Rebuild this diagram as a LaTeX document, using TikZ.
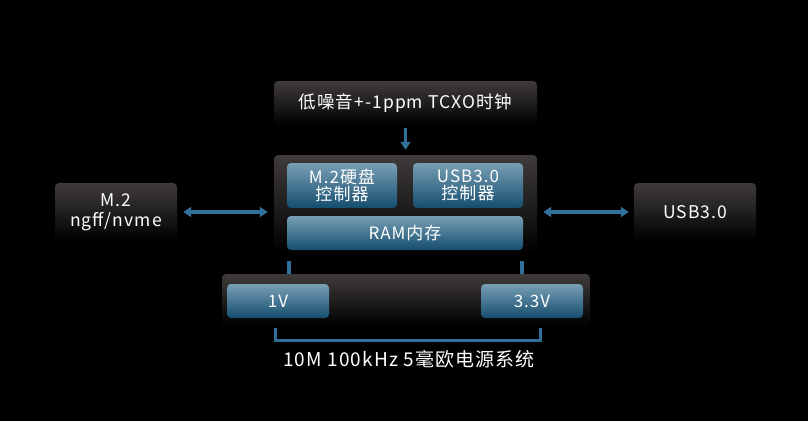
\documentclass[tikz,border=0pt]{standalone}
\usepackage{fontspec}
\setmainfont{Noto Sans CJK SC}[LetterSpace=6]
\usepackage{tikz}
\usetikzlibrary{arrows.meta, positioning, calc}

\definecolor{boxtop}{HTML}{403B3B}
\definecolor{bluetop}{HTML}{789FB5}
\definecolor{bluebot}{HTML}{154D6E}
\definecolor{linkblue}{HTML}{30709A}

\begin{document}
\begin{tikzpicture}[x=1pt, y=-1pt, >={Triangle[length=8pt, width=10pt]},
	darkbox/.style={rounded corners=4pt, top color=boxtop, bottom color=black, text=white, align=center, inner sep=0pt, font=\fontsize{17.5}{20}\selectfont},
	bluebox/.style={rounded corners=4pt, top color=bluetop, bottom color=bluebot, text=white, align=center, inner sep=0pt, font=\fontsize{17}{17}\selectfont},
	link/.style={draw=linkblue, line width=3.5pt}]

				\fill[black] (0,0) rectangle (808,421);
				\useasboundingbox (0,0) rectangle (808,421);

				% clock, core and power blocks
				\node [darkbox, minimum width=263pt, minimum height=44pt] (tcxo) at (405.5,103) {低噪音+-1ppm TCXO时钟};
				\node [darkbox, minimum width=263pt, minimum height=98pt] (core) at (405.5,204) {};
				\node [bluebox, minimum width=110pt, minimum height=45pt] (m2ctl) at (342,185.5) {M.2硬盘\\控制器};
				\node [bluebox, minimum width=110pt, minimum height=45pt] (usbctl) at (468,185.5) {USB3.0\\控制器};
				\node [bluebox, minimum width=236pt, minimum height=34pt] (ram) at (405,233) {RAM内存};

				\node [darkbox, minimum width=122pt, minimum height=58pt] (m2) at (116,212) {M.2\\ngff/nvme};
				\node [darkbox, minimum width=122pt, minimum height=58pt] (usb) at (695,212) {USB3.0};

				\node [darkbox, minimum width=368pt, minimum height=52pt] (pwr) at (406,300) {};
				\node [bluebox, minimum width=102pt, minimum height=34pt] (v1) at (278,301) {1V};
				\node [bluebox, minimum width=102pt, minimum height=34pt] (v33) at (532,301) {3.3V};

				\node [text=white, font=\fontsize{19}{22}\selectfont] (caption) at (409,359) {10M 100kHz 5毫欧电源系统};

				% connectors
				\draw [link, ->, shorten <=3pt, shorten >=5pt] (tcxo) -- (core);
				\draw [link, <->, shorten <=6pt, shorten >=6pt] (m2.east) -- (m2.east -| core.west);
				\draw [link, <->, shorten <=6pt, shorten >=5pt] (core.east |- usb.west) -- (usb.west);

				\draw [link] ($(ram.south west)+(2,11)$) -- ++(0,13);
				\draw [link] ($(ram.south east)+(-1,11)$) -- ++(0,13);

				\coordinate (bl) at (275,328);
				\coordinate (br) at (540,328);
				\draw [link, line width=3pt] (bl) -- ++(0,12) -| (br);

			\end{tikzpicture}
\end{document}
